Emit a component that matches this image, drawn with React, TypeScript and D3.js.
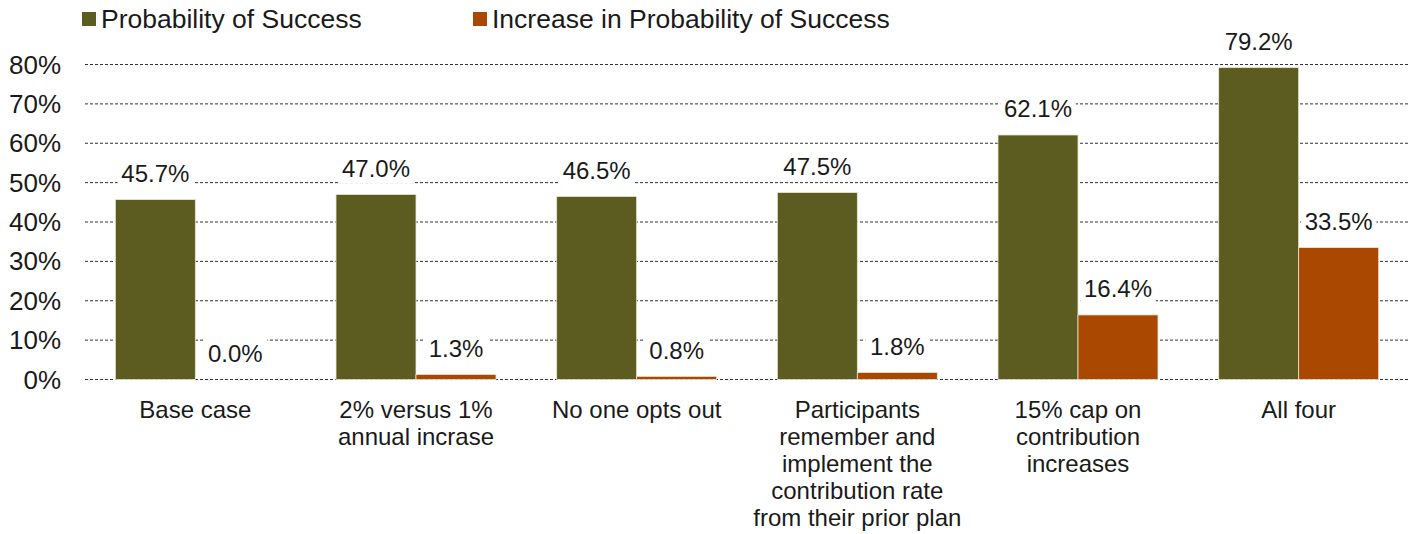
import React from "react";
import * as d3 from "d3";

const categories = [
  "Base case",
  "2% versus 1% annual incrase",
  "No one opts out",
  "Participants remember and implement the contribution rate from their prior plan",
  "15% cap on contribution increases",
  "All four",
];

// Category labels split into the lines they are drawn on
const categoryLines = [
  ["Base case"],
  ["2% versus 1%", "annual incrase"],
  ["No one opts out"],
  ["Participants", "remember and", "implement the", "contribution rate", "from their prior plan"],
  ["15% cap on", "contribution", "increases"],
  ["All four"],
];

const seriesNames = ["Probability of Success", "Increase in Probability of Success"];
const probabilityOfSuccess = [45.7, 47.0, 46.5, 47.5, 62.1, 79.2];
const increaseInProbability = [0.0, 1.3, 0.8, 1.8, 16.4, 33.5];
const yTicks = [0, 10, 20, 30, 40, 50, 60, 70, 80];

const colors = ["#5c5c20", "#aa4700"];

const W = 1409;
const H = 534;
const FONT = "'Liberation Sans', Arial, sans-serif";

export default function App() {
  const x0 = d3
    .scaleBand<string>()
    .domain(categories)
    .range([85, 1409])
    .paddingInner(0.275)
    .paddingOuter(0.1375);
  const x1 = d3
    .scaleBand<string>()
    .domain(seriesNames)
    .range([0, x0.bandwidth()]);
  const y = d3.scaleLinear().domain([0, 80]).range([379.5, 64.5]);

  const seriesValues = [probabilityOfSuccess, increaseInProbability];
  const fmt = (v: number) => d3.format(".1f")(v) + "%";

  return (
    <svg
      width={W}
      height={H}
      style={{ position: "absolute", left: 0, top: 0, background: "#fff" }}
      fontFamily={FONT}
    >
      {/* legend */}
      <g>
        {[
          { name: seriesNames[0], x: 82 },
          { name: seriesNames[1], x: 473 },
        ].map((d, i) => (
          <g key={d.name}>
            <rect x={d.x} y={12} width={14} height={14} fill={colors[i]} />
            <text x={d.x + 19} y={19} dy="0.35em" fontSize={26.5} fill="#1a1a1a">
              {d.name}
            </text>
          </g>
        ))}
      </g>

      {/* gridlines and y ticks */}
      <g>
        {yTicks.map((t) => (
          <g key={t}>
            <line
              x1={85}
              x2={1409}
              y1={y(t)}
              y2={y(t)}
              stroke="#333"
              strokeWidth={1}
              strokeDasharray="3,2"
            />
            <text
              x={61}
              y={y(t)}
              dy="0.35em"
              textAnchor="end"
              fontSize={26}
              fill="#1a1a1a"
            >
              {t}%
            </text>
          </g>
        ))}
      </g>

      {/* bars */}
      {categories.map((c, ci) => (
        <g key={c} transform={`translate(${x0(c)},0)`}>
          {seriesNames.map((s, si) => {
            const v = seriesValues[si][ci];
            return (
              <rect
                key={s}
                x={x1(s)}
                y={y(v)}
                width={x1.bandwidth()}
                height={y(0) - y(v)}
                fill={colors[si]}
                stroke="#e8e8d8"
                strokeWidth={v > 0 ? 0.8 : 0}
              />
            );
          })}
        </g>
      ))}

      {/* value labels with white backing */}
      {categories.map((c, ci) => (
        <g key={c + "-labels"} transform={`translate(${x0(c)},0)`}>
          {seriesNames.map((s, si) => {
            const v = seriesValues[si][ci];
            const cx = (x1(s) ?? 0) + x1.bandwidth() / 2;
            const cy = y(v) - 26;
            const label = fmt(v);
            const w = label.length * 11.5 + 18;
            return (
              <g key={s}>
                <rect x={cx - w / 2} y={cy - 15} width={w} height={30} fill="#fff" />
                <text
                  x={cx}
                  y={cy}
                  dy="0.35em"
                  textAnchor="middle"
                  fontSize={24}
                  fill="#1a1a1a"
                >
                  {label}
                </text>
              </g>
            );
          })}
        </g>
      ))}

      {/* category labels */}
      {categories.map((c, ci) => (
        <text
          key={c + "-cat"}
          x={(x0(c) ?? 0) + x0.bandwidth() / 2}
          y={410}
          textAnchor="middle"
          fontSize={24}
          fill="#1a1a1a"
        >
          {categoryLines[ci].map((line, li) => (
            <tspan key={li} x={(x0(c) ?? 0) + x0.bandwidth() / 2} dy={li === 0 ? "0.35em" : 27}>
              {line}
            </tspan>
          ))}
        </text>
      ))}
    </svg>
  );
}
